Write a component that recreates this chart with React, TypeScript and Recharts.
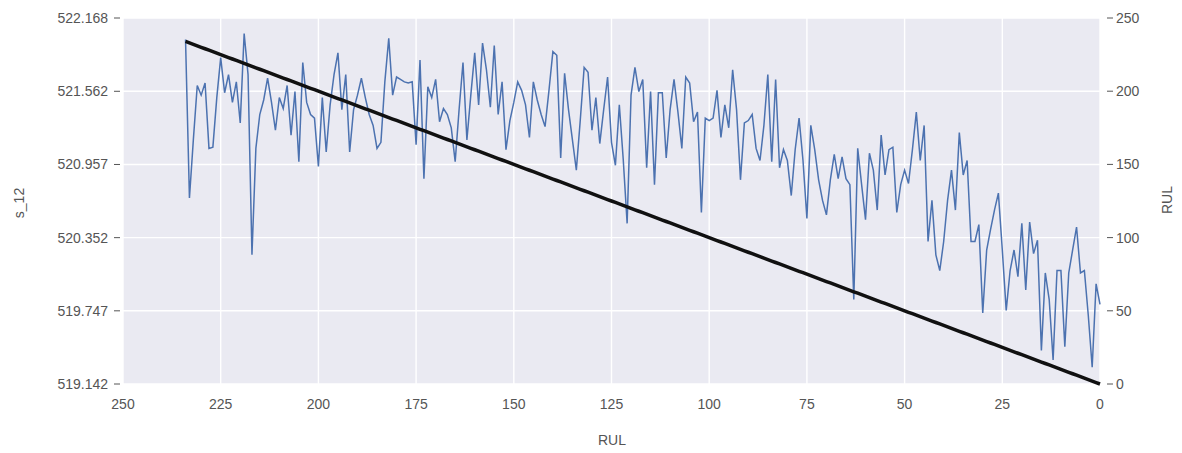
import { ComposedChart, Line, XAxis, YAxis, CartesianGrid } from 'recharts'

// s_12 sensor reading for one engine, ordered from RUL 234 down to 0
const s12 = [
  521.99, 520.68, 521.16, 521.61, 521.53, 521.63, 521.09, 521.10, 521.51, 521.84,
  521.55, 521.70, 521.47, 521.64, 521.30, 522.04, 521.70, 520.21, 521.09, 521.37,
  521.49, 521.67, 521.47, 521.24, 521.51, 521.42, 521.61, 521.20, 521.56, 520.98,
  521.80, 521.47, 521.37, 521.34, 520.94, 521.51, 521.06, 521.45, 521.70, 521.88,
  521.41, 521.70, 521.06, 521.41, 521.53, 521.67, 521.51, 521.37, 521.28, 521.09,
  521.14, 521.64, 522.00, 521.53, 521.68, 521.66, 521.64, 521.63, 521.64, 521.12,
  521.82, 520.84, 521.60, 521.51, 521.66, 521.31, 521.42, 521.37, 521.26, 520.98,
  521.41, 521.80, 521.16, 521.53, 521.88, 521.45, 521.96, 521.74, 521.43, 521.94,
  521.37, 521.64, 521.08, 521.32, 521.47, 521.64, 521.57, 521.45, 521.18, 521.64,
  521.49, 521.37, 521.27, 521.57, 521.89, 521.86, 521.01, 521.71, 521.41, 521.16,
  520.91, 521.32, 521.76, 521.72, 521.24, 521.51, 521.13, 521.41, 521.68, 521.14,
  520.95, 521.45, 521.00, 520.47, 521.53, 521.76, 521.56, 521.66, 520.93, 521.56,
  520.79, 521.55, 521.55, 521.01, 521.41, 521.66, 521.39, 521.09, 521.68, 521.63,
  521.31, 521.39, 520.56, 521.34, 521.32, 521.34, 521.57, 521.18, 521.45, 521.26,
  521.74, 521.41, 520.83, 521.30, 521.32, 521.37, 521.09, 520.99, 521.28, 521.70,
  520.98, 521.66, 520.93, 521.08, 520.99, 520.70, 521.08, 521.34, 520.99, 520.51,
  521.28, 521.08, 520.83, 520.66, 520.54, 520.83, 521.04, 520.84, 521.02, 520.84,
  520.79, 519.84, 521.09, 520.79, 520.50, 521.05, 520.91, 520.58, 521.20, 520.87,
  521.08, 521.10, 520.56, 520.79, 520.91, 520.80, 521.08, 521.39, 520.99, 521.28,
  520.32, 520.66, 520.21, 520.08, 520.32, 520.66, 520.91, 520.58, 521.22, 520.87,
  520.99, 520.32, 520.32, 520.46, 519.73, 520.25, 520.42, 520.58, 520.72, 520.25,
  519.75, 520.08, 520.25, 520.03, 520.47, 519.92, 520.48, 520.22, 520.33, 519.42,
  520.06, 519.84, 519.34, 520.08, 520.08, 519.45, 520.06, 520.25, 520.44, 520.06,
  520.08, 519.71, 519.28, 519.97, 519.80,
]

const rul = [
  234, 233, 232, 231, 230, 229, 228, 227, 226, 225, 224, 223, 222, 221, 220, 219, 218, 217, 216, 215,
  214, 213, 212, 211, 210, 209, 208, 207, 206, 205, 204, 203, 202, 201, 200, 199, 198, 197, 196, 195,
  194, 193, 192, 191, 190, 189, 188, 187, 186, 185, 184, 183, 182, 181, 180, 179, 178, 177, 176, 175,
  174, 173, 172, 171, 170, 169, 168, 167, 166, 165, 164, 163, 162, 161, 160, 159, 158, 157, 156, 155,
  154, 153, 152, 151, 150, 149, 148, 147, 146, 145, 144, 143, 142, 141, 140, 139, 138, 137, 136, 135,
  134, 133, 132, 131, 130, 129, 128, 127, 126, 125, 124, 123, 122, 121, 120, 119, 118, 117, 116, 115,
  114, 113, 112, 111, 110, 109, 108, 107, 106, 105, 104, 103, 102, 101, 100, 99, 98, 97, 96, 95,
  94, 93, 92, 91, 90, 89, 88, 87, 86, 85, 84, 83, 82, 81, 80, 79, 78, 77, 76, 75,
  74, 73, 72, 71, 70, 69, 68, 67, 66, 65, 64, 63, 62, 61, 60, 59, 58, 57, 56, 55,
  54, 53, 52, 51, 50, 49, 48, 47, 46, 45, 44, 43, 42, 41, 40, 39, 38, 37, 36, 35,
  34, 33, 32, 31, 30, 29, 28, 27, 26, 25, 24, 23, 22, 21, 20, 19, 18, 17, 16, 15,
  14, 13, 12, 11, 10, 9, 8, 7, 6, 5, 4, 3, 2, 1, 0,
]

const xTicks = [0, 25, 50, 75, 100, 125, 150, 175, 200, 225, 250]
const leftTicks = [519.142, 519.747, 520.352, 520.957, 521.562, 522.168]
const rightTicks = [0, 50, 100, 150, 200, 250]

const data = rul.map((r, i) => ({ rul: r, s12: s12[i], rulLine: r }))

const FONT = '"Liberation Sans", Arial, sans-serif'
const TXT = '#555555'

const LeftTick = ({ x, y, payload }: any) => (
  <g>
    <line x1={x - 9} x2={x - 3} y1={y} y2={y} stroke={TXT} strokeWidth={1} />
    <text x={x - 15} y={y} dy={5} textAnchor="end" fontSize={14} fontFamily={FONT} fill={TXT}>
      {payload.value.toFixed(3)}
    </text>
  </g>
)

const RightTick = ({ x, y, payload }: any) => (
  <g>
    <line x1={x + 7} x2={x + 13} y1={y} y2={y} stroke={TXT} strokeWidth={1} />
    <text x={x + 16} y={y} dy={5} textAnchor="start" fontSize={14} fontFamily={FONT} fill={TXT}>
      {payload.value}
    </text>
  </g>
)

const BottomTick = ({ x, y, payload }: any) => (
  <text x={x} y={y} dy={25} textAnchor="middle" fontSize={14} fontFamily={FONT} fill={TXT}>
    {payload.value}
  </text>
)

const labelStyle = {
  position: 'absolute' as const,
  fontFamily: FONT,
  fontSize: 14,
  color: TXT,
  whiteSpace: 'nowrap' as const,
}

export default function App() {
  return (
    <div style={{ position: 'absolute', left: 0, top: 0, width: 1182, height: 453, background: '#fff' }}>
      <ComposedChart width={1182} height={453} data={data} margin={{ top: 18, right: 0, bottom: 0, left: 0 }}>
        <CartesianGrid yAxisId="left" fill="#EAEAF2" stroke="#ffffff" strokeWidth={1.4} />
        <XAxis
          dataKey="rul"
          type="number"
          domain={[0, 250]}
          reversed
          ticks={xTicks}
          interval={0}
          height={69}
          axisLine={false}
          tickLine={false}
          tickSize={0}
          tickMargin={0}
          tick={<BottomTick />}
        />
        <YAxis
          yAxisId="left"
          type="number"
          domain={[519.142, 522.168]}
          ticks={leftTicks}
          interval={0}
          width={123}
          axisLine={false}
          tickLine={false}
          tickSize={0}
          tickMargin={0}
          tick={<LeftTick />}
        />
        <YAxis
          yAxisId="right"
          orientation="right"
          type="number"
          domain={[0, 250]}
          ticks={rightTicks}
          interval={0}
          width={82}
          axisLine={false}
          tickLine={false}
          tickSize={0}
          tickMargin={0}
          tick={<RightTick />}
        />
        <Line yAxisId="left" dataKey="s12" stroke="#4C72B0" strokeWidth={1.5} dot={false} isAnimationActive={false} />
        <Line yAxisId="right" dataKey="rulLine" stroke="#111111" strokeWidth={3.5} dot={false} isAnimationActive={false} />
      </ComposedChart>
      <div style={{ ...labelStyle, left: 19, top: 203, transform: 'translate(-50%, -50%) rotate(-90deg)' }}>s_12</div>
      <div style={{ ...labelStyle, left: 1167, top: 200, transform: 'translate(-50%, -50%) rotate(-90deg)' }}>RUL</div>
      <div style={{ ...labelStyle, left: 612, top: 440, transform: 'translate(-50%, -50%)' }}>RUL</div>
    </div>
  )
}
